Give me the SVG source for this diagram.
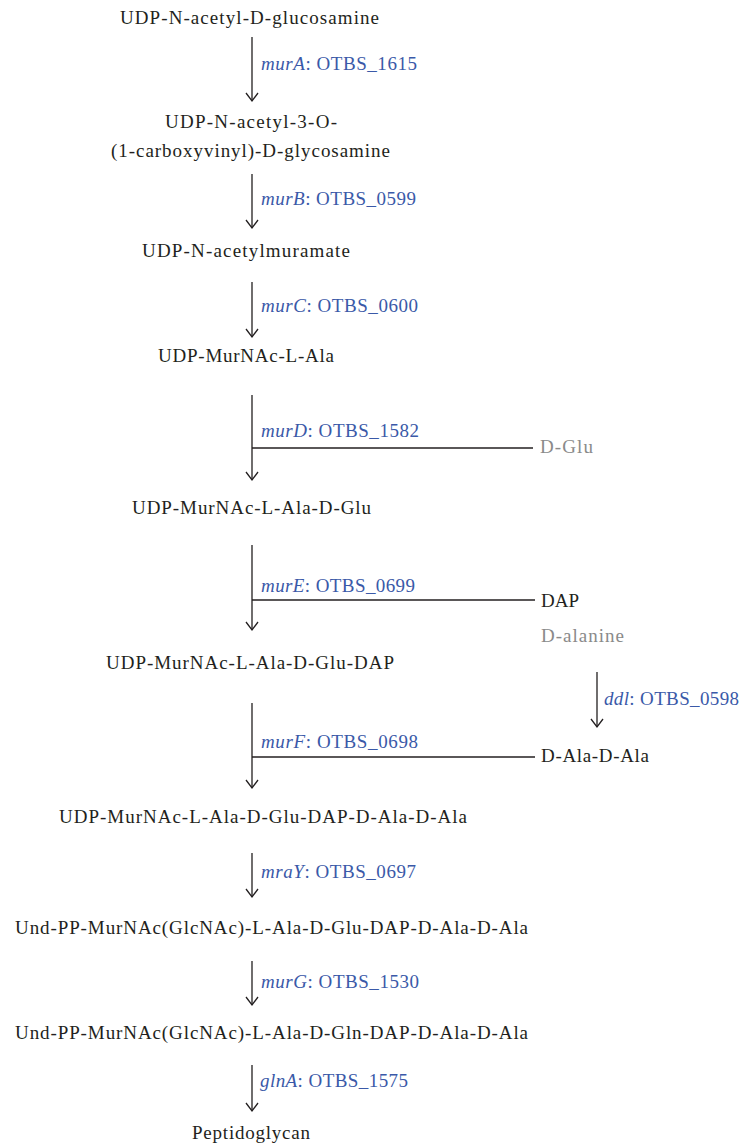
<svg xmlns="http://www.w3.org/2000/svg" width="741" height="1146" viewBox="0 0 741 1146">
<style>
text{font-family:"Liberation Serif","Times New Roman",serif;font-size:19px}
.n{fill:#231f20}
.g{fill:#8a8a8a}
.l{fill:#3a59a8}
.i{font-style:italic}
.c{stroke:#231f20;stroke-width:1.3;fill:none}
</style>
<defs>
<marker id="ah" markerUnits="userSpaceOnUse" markerWidth="16" markerHeight="16" viewBox="-10 -8 12 16" refX="0" refY="0" orient="auto">
<path d="M-8,-6 L0,0 L-8,6" stroke="#231f20" stroke-width="1.3" fill="none"/>
</marker>
</defs>
<g id="connectors">
<line class="c" x1="252" y1="37" x2="252" y2="101" marker-end="url(#ah)"/>
<line class="c" x1="252" y1="174" x2="252" y2="228" marker-end="url(#ah)"/>
<line class="c" x1="252" y1="282" x2="252" y2="337" marker-end="url(#ah)"/>
<line class="c" x1="252" y1="395" x2="252" y2="480" marker-end="url(#ah)"/>
<line class="c" x1="252" y1="448" x2="533" y2="448"/>
<line class="c" x1="252" y1="545" x2="252" y2="630" marker-end="url(#ah)"/>
<line class="c" x1="252" y1="600" x2="535" y2="600"/>
<line class="c" x1="597" y1="672" x2="597" y2="727" marker-end="url(#ah)"/>
<line class="c" x1="252" y1="703" x2="252" y2="788" marker-end="url(#ah)"/>
<line class="c" x1="252" y1="757" x2="535" y2="757"/>
<line class="c" x1="252" y1="853" x2="252" y2="897" marker-end="url(#ah)"/>
<line class="c" x1="252" y1="961" x2="252" y2="1005" marker-end="url(#ah)"/>
<line class="c" x1="252" y1="1065" x2="252" y2="1111" marker-end="url(#ah)"/>
</g>
<g id="n1"><text class="n" x="120" y="24" textLength="259" lengthAdjust="spacing">UDP-N-acetyl-D-glucosamine</text></g>
<g id="e1"><text class="l" x="261" y="70" textLength="156" lengthAdjust="spacing"><tspan class="i">murA</tspan>: OTBS_1615</text></g>
<g id="n2"><text class="n" x="165" y="128" textLength="172" lengthAdjust="spacing">UDP-N-acetyl-3-O-</text><text class="n" x="111" y="157" textLength="279" lengthAdjust="spacing">(1-carboxyvinyl)-D-glycosamine</text></g>
<g id="e2"><text class="l" x="261" y="205" textLength="155" lengthAdjust="spacing"><tspan class="i">murB</tspan>: OTBS_0599</text></g>
<g id="n3"><text class="n" x="142" y="257" textLength="208" lengthAdjust="spacing">UDP-N-acetylmuramate</text></g>
<g id="e3"><text class="l" x="261" y="312" textLength="157" lengthAdjust="spacing"><tspan class="i">murC</tspan>: OTBS_0600</text></g>
<g id="n4"><text class="n" x="158" y="362" textLength="176" lengthAdjust="spacing">UDP-MurNAc-L-Ala</text></g>
<g id="e4"><text class="l" x="261" y="437" textLength="158" lengthAdjust="spacing"><tspan class="i">murD</tspan>: OTBS_1582</text></g>
<g id="dglu"><text class="g" x="540" y="453" textLength="53" lengthAdjust="spacing">D-Glu</text></g>
<g id="n5"><text class="n" x="132" y="514" textLength="239" lengthAdjust="spacing">UDP-MurNAc-L-Ala-D-Glu</text></g>
<g id="e5"><text class="l" x="261" y="592" textLength="154" lengthAdjust="spacing"><tspan class="i">murE</tspan>: OTBS_0699</text></g>
<g id="dap"><text class="n" x="541" y="607" textLength="38" lengthAdjust="spacing">DAP</text></g>
<g id="dala"><text class="g" x="541" y="642" textLength="83" lengthAdjust="spacing">D-alanine</text></g>
<g id="n6"><text class="n" x="106" y="669" textLength="288" lengthAdjust="spacing">UDP-MurNAc-L-Ala-D-Glu-DAP</text></g>
<g id="eddl"><text class="l" x="604" y="705" textLength="135" lengthAdjust="spacing"><tspan class="i">ddl</tspan>: OTBS_0598</text></g>
<g id="e6"><text class="l" x="261" y="748" textLength="157" lengthAdjust="spacing"><tspan class="i">murF</tspan>: OTBS_0698</text></g>
<g id="daladala"><text class="n" x="541" y="762" textLength="108" lengthAdjust="spacing">D-Ala-D-Ala</text></g>
<g id="n7"><text class="n" x="59" y="823" textLength="408" lengthAdjust="spacing">UDP-MurNAc-L-Ala-D-Glu-DAP-D-Ala-D-Ala</text></g>
<g id="e7"><text class="l" x="261" y="878" textLength="155" lengthAdjust="spacing"><tspan class="i">mraY</tspan>: OTBS_0697</text></g>
<g id="n8"><text class="n" x="15" y="934" textLength="513" lengthAdjust="spacing">Und-PP-MurNAc(GlcNAc)-L-Ala-D-Glu-DAP-D-Ala-D-Ala</text></g>
<g id="e8"><text class="l" x="261" y="988" textLength="158" lengthAdjust="spacing"><tspan class="i">murG</tspan>: OTBS_1530</text></g>
<g id="n9"><text class="n" x="15" y="1039" textLength="513" lengthAdjust="spacing">Und-PP-MurNAc(GlcNAc)-L-Ala-D-Gln-DAP-D-Ala-D-Ala</text></g>
<g id="e9"><text class="l" x="260" y="1087" textLength="148" lengthAdjust="spacing"><tspan class="i">glnA</tspan>: OTBS_1575</text></g>
<g id="n10"><text class="n" x="192" y="1139" textLength="118" lengthAdjust="spacing">Peptidoglycan</text></g>
</svg>
